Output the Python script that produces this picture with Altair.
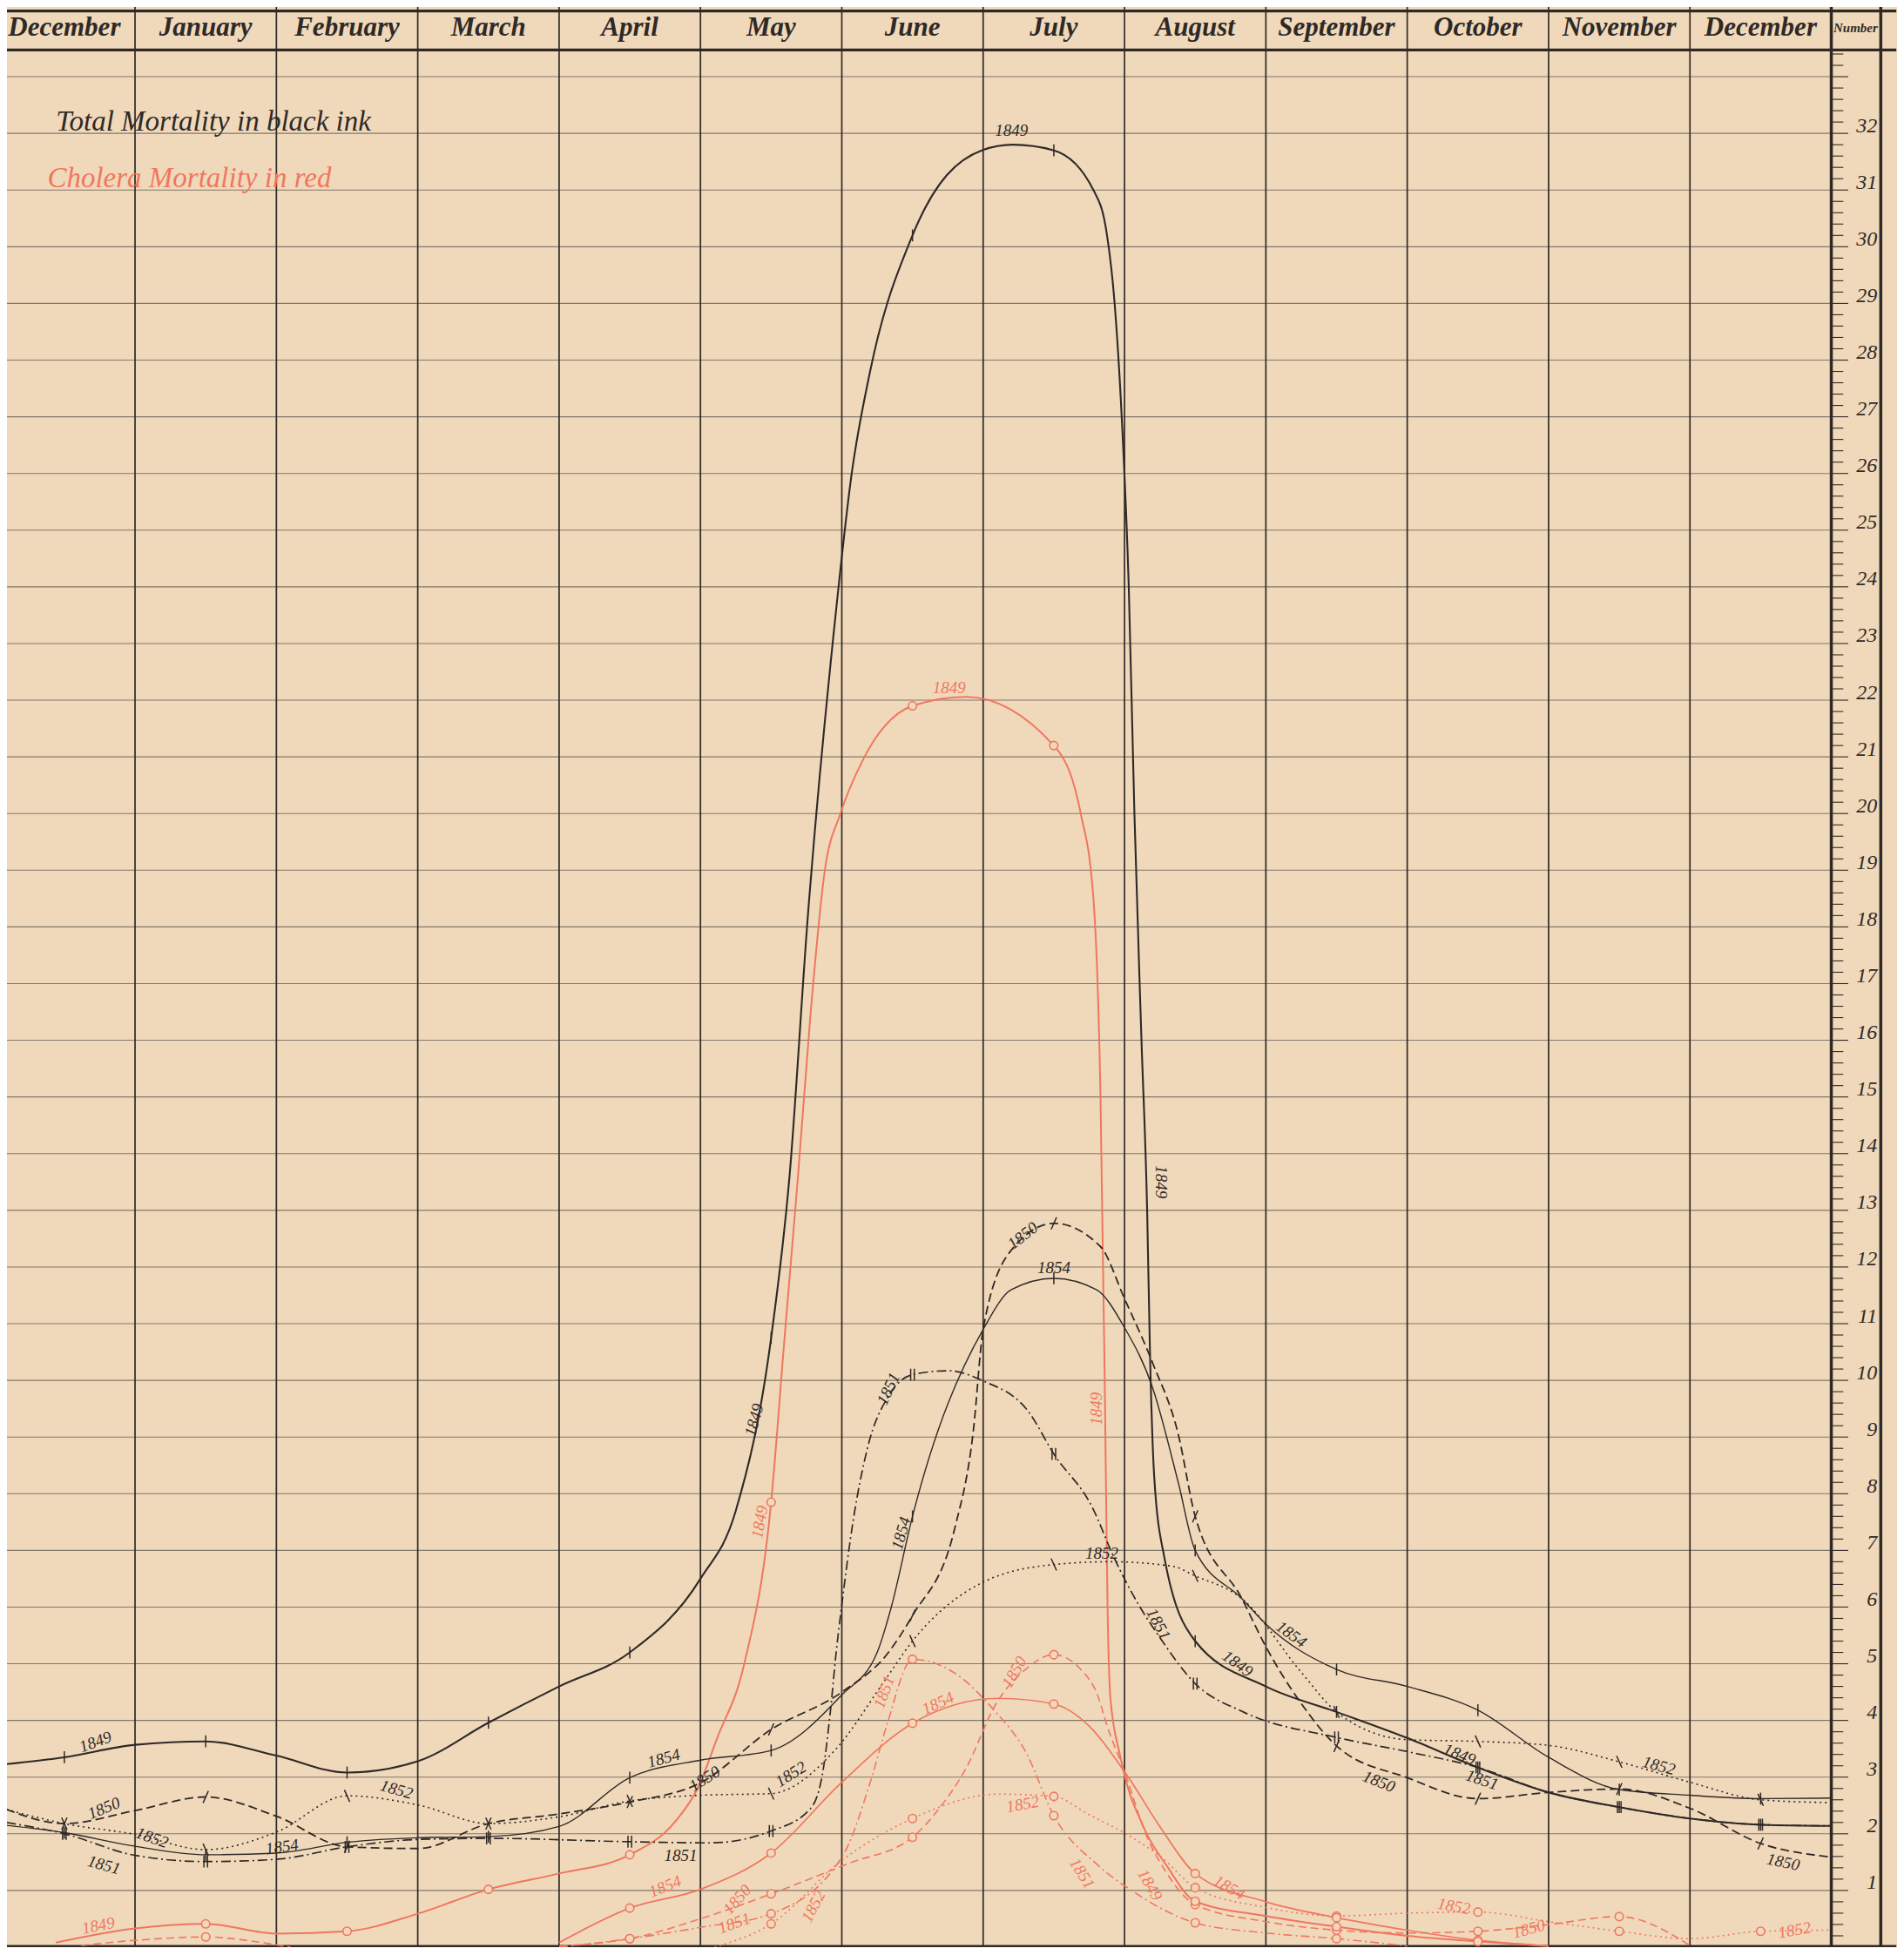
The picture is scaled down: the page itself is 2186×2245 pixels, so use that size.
import altair as alt
import pandas as pd

BG = "#f0d9bb"
INK = "#2f2926"
GRID = "#6f665d"
RED = "#f0765f"
FONT = "Liberation Serif"

W, H = 2170, 2228
XMIN, XMAX = 0.094, 13.465
YMAX = 34.23

MONTHS = ["December", "January", "February", "March", "April", "May", "June",
          "July", "August", "September", "October", "November", "December"]
NUMBERS = list(range(1, 33))

# ---- Total mortality (black ink): (month position, number)
B1849 = [(0.09, 3.23), (0.5, 3.35), (1.0, 3.57), (1.5, 3.63), (2.0, 3.38), (2.5, 3.08), (3.0, 3.28),
         (3.5, 3.96), (4.0, 4.6), (4.5, 5.2), (5.0, 6.5), (5.25, 7.7), (5.5, 10.75), (5.63, 13.6),
         (5.76, 18.2), (5.96, 23.6), (6.07, 26.0), (6.2, 27.8), (6.5, 30.2), (6.99, 31.7), (7.21, 31.8),
         (7.5, 31.7), (7.78, 31.0), (7.87, 30.3), (7.93, 29.0), (7.98, 27.0), (8.03, 24.0), (8.07, 20.0),
         (8.12, 16.0), (8.16, 13.0), (8.18, 10.5), (8.21, 8.3), (8.28, 6.9), (8.5, 5.4), (9.0, 4.6),
         (9.5, 4.15), (10.0, 3.69), (10.5, 3.17), (11.0, 2.73), (11.5, 2.47), (12.0, 2.27), (12.5, 2.16),
         (13.0, 2.14)]
B1850 = [(0.09, 2.43), (0.5, 2.18), (1.0, 2.41), (1.5, 2.65), (2.0, 2.31), (2.5, 1.77), (3.0, 1.74),
         (3.5, 2.18), (4.0, 2.35), (4.5, 2.56), (5.0, 2.9), (5.5, 3.84), (6.0, 4.5), (6.33, 5.2),
         (6.5, 5.85), (6.8, 7.4), (6.93, 9.1), (7.0, 10.9), (7.2, 12.3), (7.5, 12.77), (7.83, 12.36),
         (8.0, 11.44), (8.2, 10.3), (8.38, 9.05), (8.5, 7.6), (8.83, 6.15), (9.0, 5.3), (9.25, 4.3),
         (9.5, 3.55), (10.0, 2.99), (10.5, 2.62), (11.0, 2.73), (11.5, 2.79), (12.0, 2.45), (12.5, 1.83),
         (13.0, 1.59)]
B1851 = [(0.09, 2.2), (0.5, 2.0), (1.0, 1.62), (1.5, 1.51), (2.0, 1.55), (2.5, 1.77), (3.0, 1.9),
         (3.5, 1.92), (4.5, 1.86), (5.07, 1.84), (5.5, 2.05), (5.78, 2.45), (5.87, 3.16), (5.92, 4.18),
         (5.96, 5.2), (6.0, 6.04), (6.08, 7.52), (6.18, 8.79), (6.34, 9.76), (6.5, 10.1), (6.75, 10.17),
         (7.0, 9.99), (7.32, 9.45), (7.5, 8.7), (7.77, 7.77), (7.93, 6.85), (8.1, 6.04), (8.24, 5.5),
         (8.5, 4.65), (8.84, 4.15), (9.5, 3.7), (10.0, 3.45), (10.5, 3.17), (11.0, 2.73), (11.5, 2.47),
         (12.0, 2.27), (12.5, 2.16), (13.0, 2.14)]
B1852 = [(0.09, 2.43), (0.5, 2.18), (1.0, 1.99), (1.5, 1.72), (2.0, 2.03), (2.5, 2.67), (3.0, 2.51),
         (3.5, 2.18), (4.0, 2.3), (4.5, 2.58), (5.0, 2.68), (5.5, 2.71), (5.96, 3.5), (6.3, 4.69),
         (6.5, 5.4), (7.0, 6.44), (7.5, 6.75), (7.9, 6.8), (8.34, 6.72), (8.5, 6.55), (8.83, 6.15),
         (9.25, 4.85), (9.5, 4.15), (10.0, 3.66), (10.5, 3.63), (11.0, 3.56), (11.5, 3.27), (12.0, 2.91),
         (12.5, 2.6), (13.0, 2.55)]
B1854 = [(0.09, 2.15), (0.5, 2.02), (1.0, 1.78), (1.5, 1.63), (2.0, 1.66), (2.5, 1.85), (3.0, 1.93),
         (3.5, 1.95), (4.0, 2.13), (4.5, 2.99), (5.0, 3.3), (5.5, 3.47), (6.0, 4.45), (6.25, 5.2),
         (6.35, 6.0), (6.5, 7.6), (7.0, 10.9), (7.2, 11.6), (7.5, 11.8), (7.8, 11.6), (8.0, 10.93),
         (8.2, 9.86), (8.38, 8.2), (8.5, 7.0), (8.83, 6.15), (9.0, 5.7), (9.5, 4.9), (10.0, 4.6),
         (10.5, 4.18), (11.0, 3.35), (11.5, 2.78), (12.0, 2.68), (12.5, 2.62), (13.0, 2.63)]

# ---- Cholera mortality (red ink)
R1849 = [(0.44, 0.08), (1.0, 0.33), (1.5, 0.41), (2.0, 0.24), (2.5, 0.28), (3.0, 0.59), (3.5, 1.02),
         (4.0, 1.3), (4.5, 1.63), (4.83, 2.24), (4.98, 2.8), (5.12, 3.7), (5.31, 5.0), (5.5, 7.85),
         (5.59, 10.6), (5.69, 13.6), (5.78, 16.5), (5.88, 19.0), (5.99, 20.0), (6.14, 20.9), (6.5, 21.9),
         (6.88, 22.06), (7.5, 21.2), (7.69, 20.0), (7.78, 18.5), (7.83, 15.0), (7.86, 10.0), (7.88, 6.0),
         (7.9, 4.4), (7.97, 3.37), (8.14, 2.09), (8.3, 1.43), (8.5, 0.81), (9.0, 0.55), (9.5, 0.36),
         (10.0, 0.2), (10.5, 0.1), (11.0, 0.02)]
R1850_A = [(0.62, 0.03), (1.0, 0.12), (1.5, 0.18), (1.9, 0.08), (2.1, 0.0)]
R1850_B = [(4.0, 0.02), (4.5, 0.15), (5.0, 0.5), (5.5, 0.94), (6.05, 1.48), (6.5, 1.94), (6.69, 2.45),
           (6.88, 3.16), (7.09, 4.29), (7.3, 4.9), (7.5, 5.16), (7.69, 4.9), (7.81, 4.44), (7.88, 3.88),
           (8.0, 3.1), (8.15, 2.0), (8.3, 1.3), (8.5, 0.75), (9.0, 0.45), (9.5, 0.3), (10.0, 0.25),
           (10.5, 0.28), (11.0, 0.4), (11.5, 0.54), (12.0, 0.03)]
R1851 = [(4.0, 0.0), (4.5, 0.15), (5.0, 0.35), (5.5, 0.59), (6.01, 1.63), (6.2, 2.9), (6.32, 3.93),
         (6.5, 5.08), (6.82, 4.8), (7.07, 4.2), (7.3, 3.45), (7.5, 2.32), (7.81, 1.45), (8.05, 1.0),
         (8.5, 0.43), (9.0, 0.25), (9.5, 0.15), (10.0, 0.02)]
R1852 = [(5.1, 0.0), (5.5, 0.41), (6.0, 1.53), (6.5, 2.27), (7.11, 2.7), (7.5, 2.66), (7.74, 2.35),
         (8.05, 1.94), (8.26, 1.59), (8.5, 1.05), (9.0, 0.7), (9.5, 0.55), (10.0, 0.6), (10.5, 0.62),
         (11.0, 0.45), (11.5, 0.28), (12.0, 0.15), (12.5, 0.28), (13.0, 0.3)]
R1854 = [(4.0, 0.08), (4.5, 0.69), (5.0, 1.02), (5.5, 1.66), (6.0, 2.91), (6.5, 3.95), (7.11, 4.39),
         (7.5, 4.29), (7.75, 3.9), (8.01, 3.06), (8.26, 2.09), (8.5, 1.3), (9.0, 0.8), (9.5, 0.52),
         (10.0, 0.3), (10.5, 0.12), (11.0, 0.02)]

# ---- year labels written along the curves: (text, month position, number, angle)
LABELS_BLACK = [("1849", 0.72, 3.62, -20), ("1850", 0.78, 2.45, -22), ("1852", 1.12, 1.93, 20),
                ("1851", 0.78, 1.45, 15), ("1854", 2.04, 1.77, -8), ("1852", 2.85, 2.78, 16),
                ("1854", 4.74, 3.33, -15), ("1850", 5.03, 2.97, -32), ("1851", 4.86, 1.62, 0),
                ("1852", 5.64, 3.05, -32), ("1849", 5.38, 9.3, -75), ("1849", 7.2, 32.05, 0),
                ("1849", 8.26, 13.5, 90), ("1850", 7.28, 12.55, -38), ("1854", 7.5, 11.98, 0),
                ("1851", 6.33, 9.85, -65), ("1854", 6.42, 7.3, -74), ("1852", 7.84, 6.95, 0),
                ("1851", 8.24, 5.7, 62), ("1849", 8.8, 5.0, 36), ("1854", 9.18, 5.52, 36),
                ("1850", 9.8, 2.92, 22), ("1849", 10.37, 3.4, 22), ("1851", 10.53, 2.95, 18),
                ("1852", 11.78, 3.2, 15), ("1850", 12.66, 1.5, 12)]
LABELS_RED = [("1849", 0.74, 0.38, -12), ("1849", 5.42, 7.5, -80), ("1849", 6.76, 22.22, 0),
              ("1849", 7.8, 9.5, -90), ("1854", 4.75, 1.07, -22), ("1850", 5.26, 0.84, -48),
              ("1851", 5.24, 0.42, -20), ("1852", 5.8, 0.72, -62), ("1851", 6.3, 4.5, -70),
              ("1854", 6.68, 4.3, -25), ("1850", 7.22, 4.85, -60), ("1852", 7.28, 2.52, -10),
              ("1851", 7.7, 1.3, 58), ("1849", 8.18, 1.1, 60), ("1854", 8.74, 1.05, 30),
              ("1852", 10.33, 0.72, 10), ("1850", 10.86, 0.32, -15), ("1852", 12.74, 0.3, -10)]

LEGEND = [("Total Mortality in black ink", 0.44, 32.05, INK), ("Cholera Mortality in red", 0.38, 31.05, RED)]

TICK = "M0,-1L0,1"
SLASH = "M-0.45,1L0.45,-1"
BSLASH = "M-0.45,-1L0.45,1"
DOUBLE = "M-0.3,-1L-0.3,1M0.3,-1L0.3,1"

SERIES = [
    # name, segments, color, width, dash, marker
    ("r1852", [R1852], RED, 1.6, [2, 4], "circle"),
    ("r1851", [R1851], RED, 1.6, [10, 4, 2, 4], "circle"),
    ("r1850", [R1850_A, R1850_B], RED, 1.6, [9, 5], "circle"),
    ("r1854", [R1854], RED, 1.7, None, "circle"),
    ("r1849", [R1849], RED, 2.0, None, "circle"),
    ("b1852", [B1852], INK, 1.6, [2, 4], BSLASH),
    ("b1851", [B1851], INK, 1.7, [11, 4, 2, 4], DOUBLE),
    ("b1850", [B1850], INK, 1.8, [10, 5], SLASH),
    ("b1854", [B1854], INK, 1.4, None, TICK),
    ("b1849", [B1849], INK, 2.1, None, TICK),
]

xscale = alt.Scale(domain=[XMIN, XMAX], nice=False, zero=False)
yscale = alt.Scale(domain=[0, YMAX], nice=False, zero=False)


def ex(f):
    return alt.X(f + ":Q", scale=xscale, axis=None)


def ey(f):
    return alt.Y(f + ":Q", scale=yscale, axis=None)


layers = []

# grid: horizontal number lines
hg = pd.DataFrame({"v": list(range(1, 34)), "m0": XMIN, "m1": 13.0})
layers.append(alt.Chart(hg).mark_rule(color=GRID, strokeWidth=1.1, opacity=0.85)
              .encode(x=ex("m0"), x2="m1:Q", y=ey("v")))
# month separators
vg = pd.DataFrame({"m": list(range(1, 13)), "v0": 0.0, "v1": YMAX})
layers.append(alt.Chart(vg).mark_rule(color=INK, strokeWidth=1.7)
              .encode(x=ex("m"), y=ey("v0"), y2="v1:Q"))
# heavy frame lines
fv = pd.DataFrame({"m": [13.0, 13.35], "v0": 0.0, "v1": YMAX})
layers.append(alt.Chart(fv).mark_rule(color=INK, strokeWidth=3.5)
              .encode(x=ex("m"), y=ey("v0"), y2="v1:Q"))
fh = pd.DataFrame({"v": [YMAX - 0.07, 33.47], "m0": XMIN, "m1": 13.46})
layers.append(alt.Chart(fh).mark_rule(color=INK, strokeWidth=3.2)
              .encode(x=ex("m0"), x2="m1:Q", y=ey("v")))
fb = pd.DataFrame({"v": [0.0], "m0": XMIN, "m1": 13.46})
layers.append(alt.Chart(fb).mark_rule(color=INK, strokeWidth=5)
              .encode(x=ex("m0"), x2="m1:Q", y=ey("v")))

# scale ticks in the Number column
tk = [round(0.2 * i, 2) for i in range(1, 168)]
tdf = pd.DataFrame({"v": tk, "m0": 13.0,
                    "m1": [13.0 + (0.12 if abs(t - round(t)) < 1e-6 else 0.085) for t in tk]})
layers.append(alt.Chart(tdf).mark_rule(color=INK, strokeWidth=1.1)
              .encode(x=ex("m0"), x2="m1:Q", y=ey("v")))
ndf = pd.DataFrame({"v": [n + 0.13 for n in NUMBERS], "m": 13.325, "t": [str(n) for n in NUMBERS]})
layers.append(alt.Chart(ndf).mark_text(font=FONT, fontStyle="italic", fontSize=24, color=INK,
                                       align="right", baseline="middle")
              .encode(x=ex("m"), y=ey("v"), text="t:N"))

# header
mdf = pd.DataFrame({"m": [k + 0.5 for k in range(13)], "v": 33.86, "t": MONTHS})
layers.append(alt.Chart(mdf).mark_text(font=FONT, fontStyle="italic", fontWeight="bold", fontSize=31,
                                       color=INK, align="center", baseline="middle")
              .encode(x=ex("m"), y=ey("v"), text="t:N"))
hdr = pd.DataFrame({"m": [13.015], "v": [33.86], "t": ["Number"]})
layers.append(alt.Chart(hdr).mark_text(font=FONT, fontStyle="italic", fontWeight="bold", fontSize=15,
                                       color=INK, align="left", baseline="middle")
              .encode(x=ex("m"), y=ey("v"), text="t:N"))

# legend text
for txt, m, v, col in LEGEND:
    ld = pd.DataFrame({"m": [m], "v": [v], "t": [txt]})
    layers.append(alt.Chart(ld).mark_text(font=FONT, fontStyle="italic", fontSize=33, color=col,
                                          align="left", baseline="alphabetic")
                  .encode(x=ex("m"), y=ey("v"), text="t:N"))

# curves
marker_layers = []
for name, segs, col, wid, dash, marker in SERIES:
    frames = []
    for i, seg in enumerate(segs):
        frames.append(pd.DataFrame({"m": [p[0] for p in seg], "v": [p[1] for p in seg], "seg": i}))
    df = pd.concat(frames, ignore_index=True)
    kw = dict(interpolate="monotone", color=col, strokeWidth=wid)
    if dash:
        kw["strokeDash"] = dash
    layers.append(alt.Chart(df).mark_line(**kw).encode(x=ex("m"), y=ey("v"), detail="seg:N"))
    mk = df[((df["m"] * 2) % 2).round(6) == 1.0]
    if marker == "circle":
        marker_layers.append(alt.Chart(mk).mark_point(shape="circle", size=90, filled=True, fill=BG,
                                                      stroke=col, strokeWidth=1.6, opacity=1)
                             .encode(x=ex("m"), y=ey("v")))
    else:
        marker_layers.append(alt.Chart(mk).mark_point(shape=marker, size=190, filled=False,
                                                      stroke=col, strokeWidth=1.5, opacity=1)
                             .encode(x=ex("m"), y=ey("v")))
layers.extend(marker_layers)

# year labels
for labels, col in [(LABELS_BLACK, INK), (LABELS_RED, RED)]:
    ldf = pd.DataFrame({"t": [l[0] for l in labels], "m": [l[1] for l in labels],
                        "v": [l[2] for l in labels], "a": [l[3] % 360 for l in labels]})
    layers.append(alt.Chart(ldf).mark_text(font=FONT, fontStyle="italic", fontSize=19, color=col,
                                           align="center", baseline="middle")
                  .encode(x=ex("m"), y=ey("v"), text="t:N", angle=alt.Angle("a:Q", scale=None)))

chart = (alt.layer(*layers)
         .properties(width=W, height=H, background=BG, padding=0,
                     autosize=alt.AutoSizeParams(type="none"))
         .configure_view(strokeWidth=0))

chart.save("out.html", embed_options={"renderer": "svg", "actions": False})
